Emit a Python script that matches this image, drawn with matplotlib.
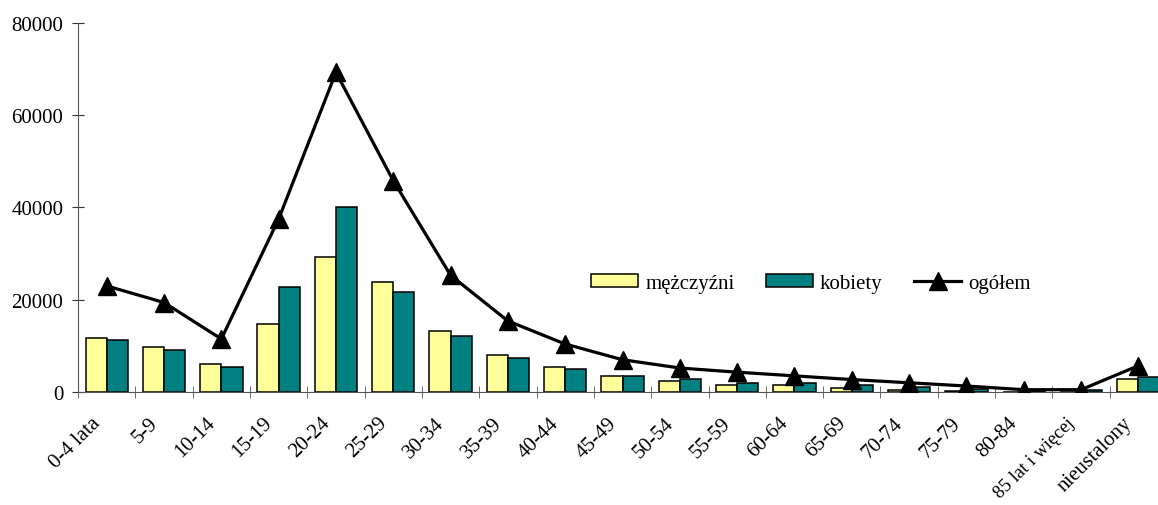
import matplotlib
matplotlib.use("Agg")
import matplotlib.pyplot as plt
import matplotlib.transforms as mtransforms
import numpy as np

categories = ["0-4 lata", "5-9", "10-14", "15-19", "20-24", "25-29", "30-34", "35-39",
              "40-44", "45-49", "50-54", "55-59", "60-64", "65-69", "70-74", "75-79",
              "80-84", "85 lat i więcej", "nieustalony"]
men = [11700, 9800, 6100, 14700, 29300, 23900, 13200, 8000, 5400, 3500, 2400, 1600,
       1600, 900, 500, 200, 100, 100, 2800]
women = [11300, 9100, 5400, 22800, 40100, 21700, 12100, 7400, 5000, 3500, 2800, 2000,
         2000, 1600, 1100, 700, 300, 500, 3200]
total = [23000, 19400, 11500, 37500, 69300, 45800, 25300, 15400, 10400, 7000, 5200, 4300,
         3500, 2700, 2000, 1300, 500, 500, 5700]

plt.rcParams['font.family'] = ['Liberation Serif', 'DejaVu Serif']

fig = plt.figure(figsize=(11.58, 5.06), dpi=100)
ax = fig.add_axes([0.0674, 0.2233, 0.9404, 0.7293])

x = np.arange(len(categories))
w = 0.37
b1 = ax.bar(x - w / 2, men, width=w, color="#FFFF99", edgecolor="black", linewidth=1.1,
            label="mężczyźni", zorder=2)
b2 = ax.bar(x + w / 2, women, width=w, color="#008080", edgecolor="black", linewidth=1.1,
            label="kobiety", zorder=2)
l1, = ax.plot(x, total, color="black", linewidth=2.3, marker="^", markersize=13,
              label="ogółem", zorder=3)

ax.set_xlim(-0.5, len(categories) - 0.5)
ax.set_ylim(0, 80000)
ax.set_yticks([0, 20000, 40000, 60000, 80000])
ax.set_yticklabels(["0", "20000", "40000", "60000", "80000"], fontsize=15)

ax.set_xticks(x)
ax.set_xticklabels([])
ax.tick_params(axis="x", which="major", length=0)
offset = mtransforms.ScaledTranslation(-9 / 100, -28 / 100, fig.dpi_scale_trans)
label_tr = ax.get_xaxis_transform() + offset
for xi, cat in zip(x, categories):
    fs = 13.5 if len(cat) > 12 else 15
    ax.text(xi, 0, cat, transform=label_tr, rotation=45, ha="right", va="center",
            rotation_mode="anchor", fontsize=fs, clip_on=False)

ax.set_xticks(np.arange(-0.5, len(categories), 1.0), minor=True)
ax.tick_params(axis="x", which="minor", direction="inout", length=9, color="#555555")
ax.tick_params(axis="y", direction="inout", length=8.6, color="#333333", pad=6.4)

for s in ["top", "right"]:
    ax.spines[s].set_visible(False)
ax.spines["left"].set_color("#555555")
ax.spines["bottom"].set_color("#555555")

leg = ax.legend(handles=[b1, b2, l1], loc="center", bbox_to_anchor=(0.673, 0.295), ncol=3,
                frameon=False, fontsize=15, handlelength=2.26, columnspacing=1.5,
                handletextpad=0.34, handleheight=0.65)

fig.savefig("out.png", dpi=100)
